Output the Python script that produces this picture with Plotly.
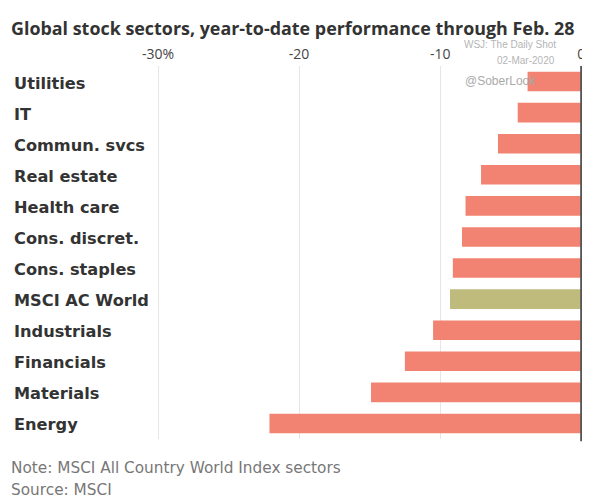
import plotly.graph_objects as go

categories = ["Utilities", "IT", "Commun. svcs", "Real estate", "Health care",
              "Cons. discret.", "Cons. staples", "MSCI AC World", "Industrials",
              "Financials", "Materials", "Energy"]
values = [-3.8, -4.5, -5.9, -7.1, -8.2, -8.45, -9.1, -9.3, -10.5, -12.5, -14.9, -22.1]
highlight = "MSCI AC World"
tick_vals = [-30, -20, -10, 0]
tick_text = ["-30%", "-20", "-10", "0"]

colors = ["#bfbb7d" if c == highlight else "#f28372" for c in categories]

fig = go.Figure(go.Bar(
    x=values, y=categories, orientation="h",
    marker=dict(color=colors, line=dict(width=0)),
    hoverinfo="x+y",
))

# page body has an 8px margin; figure is sized to fill the rest of the window
OFF = 8
W, H = 590 - OFF, 501 - OFF
L, R, T, B = 143, 5.5, 58, 62
pw = W - L - R
ph = H - T - B


def px_x(x):
    return (x - OFF - L) / pw


def px_y(y):
    return (H - B - (y - OFF)) / ph


fig.update_layout(
    width=W, height=H,
    margin=dict(l=L, r=R, t=T, b=B, pad=0),
    paper_bgcolor="white", plot_bgcolor="white",
    showlegend=False, bargap=0.37,
    font=dict(family="Open Sans", color="#333333"),
    xaxis=dict(range=[-30.5, 0.2], side="top", tickvals=tick_vals, ticktext=tick_text,
               showgrid=True, gridcolor="#e6e6e6", gridwidth=1, zeroline=False,
               ticks="", ticklabelstandoff=3,
               tickfont=dict(size=14, color="#444444", family="Open Sans"),
               showline=False, fixedrange=True),
    yaxis=dict(categoryorder="array", categoryarray=categories[::-1],
               showticklabels=False, ticks="", showgrid=False, zeroline=False,
               fixedrange=True),
)

# zero line
fig.add_shape(type="line", x0=0, x1=0, xref="x", y0=-0.006, y1=1.0, yref="paper",
              line=dict(color="#555555", width=2))

# category labels, left-aligned
for c in categories:
    fig.add_annotation(text=c, x=px_x(12), xref="paper", y=c, yref="y",
                       xanchor="left", yanchor="middle", showarrow=False, yshift=-1.5,
                       font=dict(size=16.2, color="#333333", family="DejaVu Sans", weight=700))

fig.add_annotation(text="Global stock sectors, year-to-date performance through Feb. 28",
                   x=px_x(9), y=px_y(27.5), xref="paper", yref="paper",
                   xanchor="left", yanchor="middle", showarrow=False,
                   font=dict(size=17.9, color="#333333", family="Open Sans", weight=700))
fig.add_annotation(text="WSJ: The Daily Shot", x=px_x(558), y=px_y(44.5),
                   xref="paper", yref="paper", xanchor="right", yanchor="middle",
                   showarrow=False, font=dict(size=10, color="#b5b5b5", family="Liberation Sans"))
fig.add_annotation(text="02-Mar-2020", x=px_x(557), y=px_y(60),
                   xref="paper", yref="paper", xanchor="right", yanchor="middle",
                   showarrow=False, font=dict(size=10, color="#b5b5b5", family="Liberation Sans"))
fig.add_annotation(text="@SoberLook", x=px_x(463), y=px_y(80.5),
                   xref="paper", yref="paper", xanchor="left", yanchor="middle",
                   showarrow=False, font=dict(size=12, color="#aaaaaa", family="Liberation Sans"))
fig.add_annotation(text="Note: MSCI All Country World Index sectors", x=px_x(9), y=px_y(468),
                   xref="paper", yref="paper", xanchor="left", yanchor="middle",
                   showarrow=False, font=dict(size=15.3, color="#777777", family="DejaVu Sans"))
fig.add_annotation(text="Source: MSCI", x=px_x(9), y=px_y(490),
                   xref="paper", yref="paper", xanchor="left", yanchor="middle",
                   showarrow=False, font=dict(size=15.3, color="#777777", family="DejaVu Sans"))

fig.write_html("out.html")
